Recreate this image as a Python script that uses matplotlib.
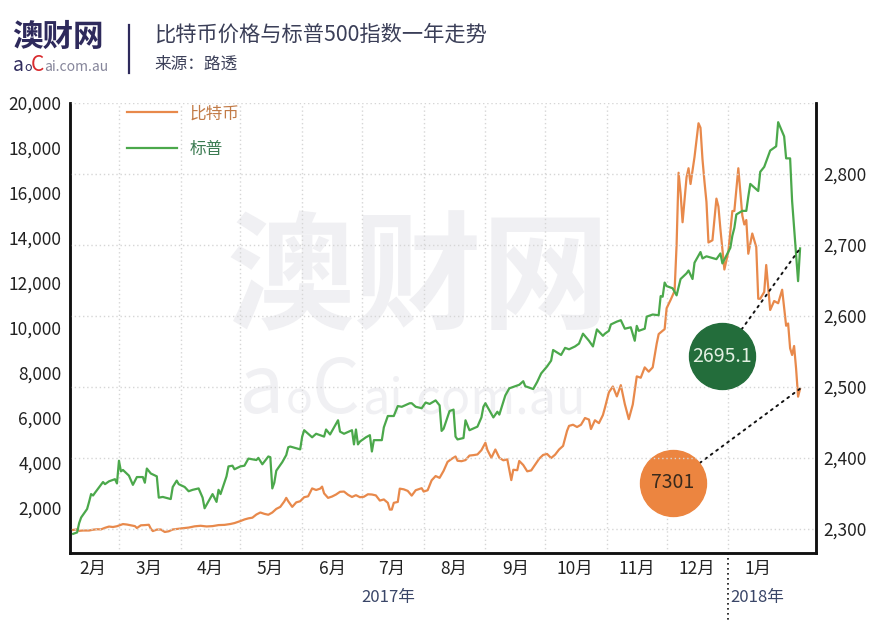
import matplotlib
matplotlib.use("Agg")
import matplotlib.pyplot as plt
import matplotlib.dates as mdates
from matplotlib.transforms import offset_copy, blended_transform_factory
from matplotlib.ticker import FixedLocator, FixedFormatter, NullFormatter
import pandas as pd

plt.rcParams['font.family'] = ['Noto Sans CJK SC', 'DejaVu Sans']

# Bitcoin (USD)
btc_dates = [
    "2017-02-06", "2017-02-08", "2017-02-09", "2017-02-11", "2017-02-14", "2017-02-16", "2017-02-18",
    "2017-02-20", "2017-02-22", "2017-02-24", "2017-02-26", "2017-02-28", "2017-03-02", "2017-03-03",
    "2017-03-05", "2017-03-07", "2017-03-09", "2017-03-10", "2017-03-12", "2017-03-14", "2017-03-16",
    "2017-03-17", "2017-03-18", "2017-03-20", "2017-03-22", "2017-03-24", "2017-03-26", "2017-03-28",
    "2017-03-31", "2017-04-02", "2017-04-05", "2017-04-08", "2017-04-11", "2017-04-14", "2017-04-17",
    "2017-04-20", "2017-04-23", "2017-04-26", "2017-04-28", "2017-05-01", "2017-05-03", "2017-05-05",
    "2017-05-07", "2017-05-09", "2017-05-11", "2017-05-13", "2017-05-15", "2017-05-17", "2017-05-19",
    "2017-05-21", "2017-05-23", "2017-05-24", "2017-05-25", "2017-05-27", "2017-05-29", "2017-05-31",
    "2017-06-02", "2017-06-04", "2017-06-06", "2017-06-08", "2017-06-10", "2017-06-11", "2017-06-12",
    "2017-06-14", "2017-06-16", "2017-06-18", "2017-06-20", "2017-06-22", "2017-06-24", "2017-06-26",
    "2017-06-28", "2017-06-30", "2017-07-02", "2017-07-04", "2017-07-06", "2017-07-08", "2017-07-10",
    "2017-07-12", "2017-07-14", "2017-07-15", "2017-07-16", "2017-07-17", "2017-07-19", "2017-07-20",
    "2017-07-22", "2017-07-24", "2017-07-26", "2017-07-28", "2017-07-31", "2017-08-01", "2017-08-03",
    "2017-08-05", "2017-08-07", "2017-08-09", "2017-08-11", "2017-08-13", "2017-08-15", "2017-08-17",
    "2017-08-18", "2017-08-20", "2017-08-22", "2017-08-24", "2017-08-26", "2017-08-28", "2017-08-30",
    "2017-09-01", "2017-09-02", "2017-09-04", "2017-09-06", "2017-09-08", "2017-09-10", "2017-09-12",
    "2017-09-14", "2017-09-15", "2017-09-17", "2017-09-18", "2017-09-20", "2017-09-22", "2017-09-24",
    "2017-09-26", "2017-09-28", "2017-09-30", "2017-10-02", "2017-10-04", "2017-10-06", "2017-10-08",
    "2017-10-10", "2017-10-12", "2017-10-13", "2017-10-15", "2017-10-17", "2017-10-19", "2017-10-21",
    "2017-10-23", "2017-10-24", "2017-10-26", "2017-10-28", "2017-10-30", "2017-10-31", "2017-11-02",
    "2017-11-04", "2017-11-06", "2017-11-08", "2017-11-10", "2017-11-12", "2017-11-14", "2017-11-16",
    "2017-11-18", "2017-11-20", "2017-11-22", "2017-11-24", "2017-11-26", "2017-11-27", "2017-11-29",
    "2017-11-30", "2017-12-01", "2017-12-03", "2017-12-05", "2017-12-06", "2017-12-07", "2017-12-08",
    "2017-12-09", "2017-12-11", "2017-12-12", "2017-12-13", "2017-12-15", "2017-12-17", "2017-12-18",
    "2017-12-19", "2017-12-20", "2017-12-21", "2017-12-22", "2017-12-24", "2017-12-26", "2017-12-27",
    "2017-12-28", "2017-12-30", "2018-01-01", "2018-01-03", "2018-01-04", "2018-01-06", "2018-01-08",
    "2018-01-09", "2018-01-10", "2018-01-11", "2018-01-13", "2018-01-15", "2018-01-16", "2018-01-17",
    "2018-01-19", "2018-01-20", "2018-01-22", "2018-01-24", "2018-01-26", "2018-01-28", "2018-01-30",
    "2018-01-31", "2018-02-01", "2018-02-02", "2018-02-03", "2018-02-04", "2018-02-05", "2018-02-06",
]
btc_price = [
    1025, 1050, 985, 1000, 1000, 1035, 1055,
    1050, 1120, 1175, 1155, 1190, 1255, 1285,
    1265, 1230, 1195, 1110, 1230, 1240, 1255,
    1080, 975, 1040, 1045, 935, 965, 1045,
    1080, 1100, 1130, 1185, 1210, 1180, 1195,
    1240, 1250, 1290, 1330, 1420, 1490, 1540,
    1570, 1710, 1800, 1740, 1700, 1800, 1960,
    2050, 2290, 2450, 2300, 2050, 2250, 2300,
    2480, 2520, 2870, 2800, 2860, 2950, 2650,
    2450, 2510, 2600, 2720, 2730, 2590, 2490,
    2570, 2480, 2500, 2610, 2600, 2560, 2330,
    2380, 2230, 1930, 1930, 2230, 2270, 2860,
    2830, 2760, 2550, 2790, 2880, 2730, 2790,
    3230, 3420, 3340, 3650, 4050, 4180, 4290,
    4100, 4080, 4130, 4330, 4350, 4380, 4570,
    4900, 4580, 4230, 4600, 4230, 4120, 4160,
    3240, 3700, 3680, 4090, 3910, 3630, 3670,
    3930, 4190, 4360, 4400, 4220, 4370, 4600,
    4760, 5430, 5650, 5700, 5600, 5700, 6000,
    5930, 5510, 5900, 5770, 6130, 6450, 7140,
    7400, 6960, 7460, 6620, 5950, 6600, 7850,
    7790, 8250, 8060, 8250, 9300, 9730, 9880,
    9950, 10880, 11250, 11650, 13700, 16900, 16000,
    14700, 16700, 17100, 16400, 17600, 19100, 18900,
    17500, 16500, 15600, 13800, 13900, 15750, 15400,
    14400, 12600, 13400, 15200, 15200, 17100, 15000,
    14600, 14800, 13300, 14200, 13600, 11300, 11300,
    11600, 12800, 10800, 11200, 11100, 11700, 10100,
    10200, 9100, 8800, 9200, 8200, 6950, 7301,
]

# S&P 500 close
sp_dates = [
    "2017-02-06", "2017-02-08", "2017-02-09", "2017-02-10", "2017-02-13", "2017-02-14", "2017-02-15",
    "2017-02-16", "2017-02-17", "2017-02-21", "2017-02-22", "2017-02-24", "2017-02-27", "2017-02-28",
    "2017-03-01", "2017-03-02", "2017-03-03", "2017-03-06", "2017-03-08", "2017-03-10", "2017-03-13",
    "2017-03-14", "2017-03-15", "2017-03-17", "2017-03-20", "2017-03-21", "2017-03-23", "2017-03-27",
    "2017-03-28", "2017-03-30", "2017-03-31", "2017-04-03", "2017-04-05", "2017-04-07", "2017-04-10",
    "2017-04-12", "2017-04-13", "2017-04-17", "2017-04-19", "2017-04-20", "2017-04-21", "2017-04-24",
    "2017-04-25", "2017-04-27", "2017-04-28", "2017-05-01", "2017-05-03", "2017-05-05", "2017-05-09",
    "2017-05-10", "2017-05-12", "2017-05-15", "2017-05-16", "2017-05-17", "2017-05-18", "2017-05-19",
    "2017-05-22", "2017-05-24", "2017-05-25", "2017-05-26", "2017-05-31", "2017-06-01", "2017-06-02",
    "2017-06-06", "2017-06-08", "2017-06-12", "2017-06-13", "2017-06-15", "2017-06-19", "2017-06-20",
    "2017-06-22", "2017-06-26", "2017-06-27", "2017-06-28", "2017-06-29", "2017-06-30", "2017-07-03",
    "2017-07-05", "2017-07-06", "2017-07-07", "2017-07-11", "2017-07-12", "2017-07-14", "2017-07-17",
    "2017-07-19", "2017-07-21", "2017-07-25", "2017-07-26", "2017-07-28", "2017-07-31", "2017-08-02",
    "2017-08-04", "2017-08-07", "2017-08-09", "2017-08-10", "2017-08-11", "2017-08-14", "2017-08-16",
    "2017-08-17", "2017-08-18", "2017-08-21", "2017-08-22", "2017-08-24", "2017-08-28", "2017-08-30",
    "2017-08-31", "2017-09-01", "2017-09-05", "2017-09-07", "2017-09-08", "2017-09-11", "2017-09-13",
    "2017-09-15", "2017-09-18", "2017-09-20", "2017-09-21", "2017-09-25", "2017-09-27", "2017-09-29",
    "2017-10-02", "2017-10-04", "2017-10-05", "2017-10-09", "2017-10-11", "2017-10-13", "2017-10-16",
    "2017-10-18", "2017-10-20", "2017-10-23", "2017-10-25", "2017-10-27", "2017-10-30", "2017-10-31",
    "2017-11-02", "2017-11-03", "2017-11-06", "2017-11-08", "2017-11-10", "2017-11-13", "2017-11-15",
    "2017-11-16", "2017-11-17", "2017-11-20", "2017-11-21", "2017-11-24", "2017-11-27", "2017-11-28",
    "2017-11-29", "2017-11-30", "2017-12-01", "2017-12-04", "2017-12-06", "2017-12-08", "2017-12-11",
    "2017-12-12", "2017-12-14", "2017-12-15", "2017-12-18", "2017-12-19", "2017-12-21", "2017-12-26",
    "2017-12-28", "2017-12-29", "2018-01-02", "2018-01-03", "2018-01-04", "2018-01-05", "2018-01-08",
    "2018-01-10", "2018-01-11", "2018-01-12", "2018-01-16", "2018-01-17", "2018-01-19", "2018-01-22",
    "2018-01-24", "2018-01-25", "2018-01-26", "2018-01-29", "2018-01-30", "2018-02-01", "2018-02-02",
    "2018-02-05", "2018-02-06",
]
sp_close = [
    2293, 2295, 2308, 2316, 2328, 2338, 2349,
    2347, 2351, 2366, 2363, 2367, 2370, 2364,
    2396, 2381, 2383, 2375, 2362, 2373, 2373,
    2365, 2385, 2378, 2374, 2344, 2345, 2342,
    2359, 2368, 2363, 2359, 2353, 2355, 2357,
    2344, 2329, 2349, 2338, 2355, 2349, 2374,
    2388, 2389, 2384, 2388, 2389, 2399, 2397,
    2400, 2391, 2402, 2401, 2357, 2365, 2382,
    2394, 2404, 2415, 2416, 2412, 2430, 2439,
    2429, 2434, 2430, 2440, 2433, 2453, 2437,
    2434, 2439, 2419, 2440, 2419, 2423, 2429,
    2432, 2409, 2425, 2425, 2443, 2459, 2459,
    2473, 2472, 2477, 2477, 2472, 2470, 2478,
    2476, 2481, 2474, 2438, 2441, 2466, 2468,
    2430, 2426, 2428, 2453, 2439, 2444, 2457,
    2472, 2477, 2457, 2465, 2461, 2488, 2498,
    2500, 2503, 2508, 2501, 2497, 2507, 2519,
    2529, 2537, 2552, 2545, 2555, 2553, 2557,
    2561, 2575, 2565, 2557, 2581, 2572, 2575,
    2579, 2588, 2592, 2594, 2582, 2584, 2565,
    2586, 2579, 2582, 2599, 2602, 2601, 2628,
    2627, 2647, 2642, 2639, 2629, 2652, 2660,
    2664, 2652, 2675, 2690, 2681, 2684, 2680,
    2688, 2674, 2696, 2713, 2724, 2743, 2748,
    2748, 2768, 2786, 2776, 2803, 2810, 2833,
    2837, 2839, 2873, 2853, 2822, 2822, 2762,
    2649, 2695.1,
]

month_labels = ["2月", "3月", "4月", "5月", "6月", "7月", "8月", "9月", "10月", "11月", "12月", "1月"]
btc_ticks = [2000, 4000, 6000, 8000, 10000, 12000, 14000, 16000, 18000, 20000]
sp_ticks = [2300, 2400, 2500, 2600, 2700, 2800, 2900]

btc_x = pd.to_datetime(btc_dates)
sp_x = pd.to_datetime(sp_dates)

orange = '#E8894B'
green = '#4BA84B'
navy = '#2e2a5c'

fig = plt.figure(figsize=(8.74, 6.2), dpi=100)
ax = fig.add_axes([70 / 874, 67 / 620, 746 / 874, 450 / 620])
ax2 = ax.twinx()
ax.set_facecolor('none')
ax2.set_facecolor('none')

# watermark
wm = '#f0f0f3'
fig.text(418 / 874, 1 - 282 / 620, '澳财网', fontsize=92, fontweight='bold', color=wm,
         ha='center', va='center', zorder=-1)
fig.text(238 / 874, 1 - 413 / 620, 'a', fontsize=58, color=wm, ha='left', va='baseline', zorder=-1)
fig.text(286 / 874, 1 - 413 / 620, 'o', fontsize=32, color=wm, ha='left', va='baseline', zorder=-1)
fig.text(312 / 874, 1 - 413 / 620, 'C', fontsize=54, color=wm, ha='left', va='baseline', zorder=-1)
fig.text(362 / 874, 1 - 413 / 620, 'ai.com.au', fontsize=35, color=wm, ha='left', va='baseline', zorder=-1)

l1, = ax.plot(btc_x, btc_price, color=orange, lw=1.6, label='比特币')
l2, = ax2.plot(sp_x, sp_close, color=green, lw=1.6, label='标普')

ax.set_xlim(pd.Timestamp('2017-02-04 10:00'), pd.Timestamp('2018-02-14'))
ax.set_ylim(0, 20000)
ax2.set_ylim(2266, 2900)

# x axis: gridlines at month starts, labels at mid-month
month_starts = pd.date_range('2017-03-01', '2018-01-01', freq='MS')
month_mids = pd.date_range('2017-02-01', '2018-01-01', freq='MS') + pd.Timedelta(days=15)
ax.xaxis.set_major_locator(FixedLocator(mdates.date2num(month_starts)))
ax.xaxis.set_major_formatter(NullFormatter())
ax.xaxis.set_minor_locator(FixedLocator(mdates.date2num(month_mids)))
ax.xaxis.set_minor_formatter(FixedFormatter(month_labels))
ax.tick_params(axis='x', which='both', length=0, labelsize=12.5, pad=5, labelcolor='#222222')
ax.grid(axis='x', which='major', linestyle=(0, (1, 2)), color='#d6d6d6', lw=1)

ax.yaxis.set_major_locator(FixedLocator(btc_ticks))
ax.set_yticklabels([f'{v:,}' for v in btc_ticks])
ax.tick_params(axis='y', length=0, labelsize=12.5, pad=6, labelcolor='#222222')

ax2.yaxis.set_major_locator(FixedLocator(sp_ticks))
ax2.set_yticklabels([f'{v:,}' for v in sp_ticks[:-1]] + [''])
ax2.tick_params(axis='y', length=0, labelsize=12.5, pad=5, labelcolor='#222222')
ax2.grid(axis='y', linestyle=(0, (1, 2)), color='#d6d6d6', lw=1)

for a in (ax, ax2):
    a.spines['top'].set_visible(False)
    for s in ('left', 'right', 'bottom'):
        a.spines[s].set_color('#111111')
        a.spines[s].set_linewidth(1.8)
ax.set_axisbelow(True)
ax2.set_axisbelow(True)

# year labels and separator
trans = blended_transform_factory(ax.transData, ax.transAxes)
jan1 = pd.Timestamp('2018-01-01')
ax.plot([jan1, jan1], [0, -0.16], transform=trans, color='#111111', lw=1.2,
        linestyle=(0, (1, 2)), clip_on=False)
ax.text(pd.Timestamp('2017-07-14'), -0.098, '2017年', transform=trans, ha='center', va='center',
        fontsize=12, color='#3a4668')
ax.text(jan1 + pd.Timedelta(days=0.8), -0.098, '2018年', transform=trans, ha='left', va='center',
        fontsize=12, color='#3a4668')

# legend
ax2.legend(handles=[l1, l2], loc='upper left', bbox_to_anchor=(0.076, 0.995), frameon=False,
           borderaxespad=0, borderpad=0, handlelength=3.0, handletextpad=0.8, labelspacing=1.1,
           fontsize=12, labelcolor=['#c27b47', '#3b7b52'])

# end value bubbles
def bubble(axis, x, y, dx, dy, text, face, tcolor):
    tr = offset_copy(axis.transData, fig=fig, x=dx, y=dy, units='dots')
    axis.annotate('', xy=(x, y), xytext=(dx, dy), textcoords='offset pixels',
                  arrowprops=dict(arrowstyle='-', color='#111111', lw=1.4,
                                  linestyle=(0, (1, 2.5)), shrinkA=24, shrinkB=0))
    axis.plot([x], [y], marker='o', ms=47.5, color=face, mec=face, transform=tr, clip_on=False, zorder=5)
    axis.text(x, y, text, transform=tr, ha='center', va='center', fontsize=14, color=tcolor, zorder=6)

bubble(ax2, sp_x[-1], sp_close[-1], -78, -108, '2695.1', '#236d3b', '#e2f0e2')
bubble(ax, btc_x[-1], btc_price[-1], -127, -94, '7301', '#EC8540', '#3a2a1c')

# header
fig.text(12 / 874, 1 - 37 / 620, '澳财网', fontsize=22, fontweight='bold', color=navy, ha='left', va='center')
fig.text(13 / 874, 1 - 71 / 620, 'a', fontsize=14, color=navy, ha='left', va='baseline')
fig.text(24 / 874, 1 - 71 / 620, 'o', fontsize=9, color=navy, ha='left', va='baseline')
fig.text(31 / 874, 1 - 71 / 620, 'C', fontsize=15, color='#d92b2f', ha='left', va='baseline')
fig.text(44 / 874, 1 - 71 / 620, 'ai.com.au', fontsize=10, color='#85859a', ha='left', va='baseline')
fig.add_artist(plt.Line2D([129 / 874, 129 / 874], [1 - 25 / 620, 1 - 73 / 620], color=navy, lw=1.6))
fig.text(154 / 874, 1 - 35 / 620, '比特币价格与标普500指数一年走势', fontsize=15.3, color='#3b3f58',
         ha='left', va='center')
fig.text(154 / 874, 1 - 64 / 620, '来源：路透', fontsize=12, color='#3b3f58', ha='left', va='center')

fig.savefig('out.png', dpi=100)
